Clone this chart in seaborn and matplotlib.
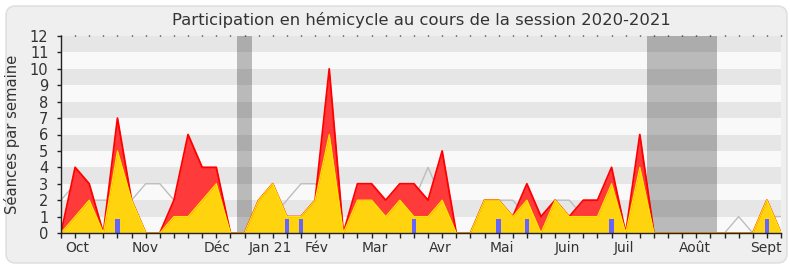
import numpy as np
import pandas as pd
import matplotlib
matplotlib.use("Agg")
import matplotlib.pyplot as plt
import seaborn as sns
from matplotlib.patches import FancyBboxPatch

# ---- data (weekly, session 2020-2021) ----
weeks = list(range(52))
seances_total = [0, 4, 3, 0, 7, 2, 0, 0, 2, 6, 4, 4, 0, 0, 2, 3, 1, 1, 2, 10,
                 0, 3, 3, 2, 3, 3, 2, 5, 0, 0, 2, 2, 1, 3, 1, 2, 1, 2, 2, 4,
                 0, 6, 0, 0, 0, 0, 0, 0, 0, 0, 2, 0]
seances_hemicycle = [0, 1, 2, 0, 5, 2, 0, 0, 1, 1, 2, 3, 0, 0, 2, 3, 1, 1, 2, 6,
                     0, 2, 2, 1, 2, 1, 1, 2, 0, 0, 2, 2, 1, 2, 0, 2, 1, 1, 1, 3,
                     0, 4, 0, 0, 0, 0, 0, 0, 0, 0, 2, 0]
mediane = [2, 3, 2, 2, 2, 2, 3, 3, 2, 3, 1, 1, 0, 0, 1, 1, 2, 3, 3, 2,
           0, 1, 2, 1, 1, 2, 4, 2, 0, 0, 2, 2, 2, 1, 1, 2, 2, 1, 1, 1,
           0, 1, 0, 0, 0, 0, 0, 0, 1, 0, 1, 1]
questions = [0, 0, 0, 0, 1, 0, 0, 0, 0, 0, 0, 0, 0, 0, 0, 0, 1, 1, 0, 0,
             0, 0, 0, 0, 0, 1, 0, 0, 0, 0, 0, 1, 0, 1, 0, 0, 0, 0, 0, 1,
             0, 0, 0, 0, 0, 0, 0, 0, 0, 0, 1, 0]
vacances_debut = [12.5, 41.5]
vacances_fin = [13.5, 46.5]
y_ticks = list(range(13))
month_labels = ["Oct", "Nov", "Déc", "Jan 21", "Fév", "Mar", "Avr", "Mai",
                "Juin", "Juil", "Août", "Sept"]
month_pos = [1.16, 5.94, 11.02, 14.85, 18.1, 22.2, 26.9, 31.2, 35.9, 39.9,
             44.9, 49.95]

df = pd.DataFrame({"semaine": weeks, "total": seances_total,
                   "hemicycle": seances_hemicycle, "mediane": mediane,
                   "questions": questions})

sns.set_theme(style="ticks")
plt.rcParams['font.family'] = ['DejaVu Sans']

W, H = 790, 267
fig = plt.figure(figsize=(W / 100, H / 100), dpi=100)
fig.patch.set_facecolor("white")
panel = FancyBboxPatch((6 / W, 4 / H), 781 / W, 257 / H,
                       boxstyle="round,pad=0,rounding_size=0.012",
                       mutation_aspect=W / H,
                       transform=fig.transFigure, facecolor="#efefef",
                       edgecolor="#dddddd", lw=1.0, zorder=-10)
fig.patches.append(panel)

ax = fig.add_axes([61 / W, 34 / H, 720 / W, 197 / H])
ax.set_facecolor("#f9f9f9")
for k in range(1, 12, 2):
    ax.axhspan(k, k + 1, color="#e6e6e6", lw=0, zorder=0)
for a, b in zip(vacances_debut, vacances_fin):
    ax.axvspan(a, b, color="black", alpha=0.25, lw=0, zorder=1)

sns.lineplot(data=df, x="semaine", y="mediane", color="#bdbdbd", lw=1.0,
             ax=ax, zorder=2)
ax.fill_between(df["semaine"], df["total"], color="#ff3a3a", lw=0, zorder=3)
ax.plot(df["semaine"], df["total"], color="#ff0000", lw=1.3, zorder=3)
ax.fill_between(df["semaine"], df["hemicycle"], color="#ffd30d", lw=0, zorder=4)
ax.plot(df["semaine"], df["hemicycle"], color="#ffe600", lw=0.9, zorder=4)
ax.bar(df["semaine"], df["questions"] * 0.85, width=0.33, color="#6464ff",
       lw=0, zorder=5)

ax.set_xlim(0, 51)
ax.set_ylim(0, 12)

# week tick marks (bottom, outward), small dots on top, y tick marks
ax.plot(weeks, [0] * len(weeks), ls="none", marker=3, markersize=3.8,
        markeredgewidth=1.0, color="#222222", clip_on=False, zorder=12)
ax.plot(weeks, [12] * len(weeks), ls="none", marker=2, markersize=1.0,
        markeredgewidth=1.0, color="#111111", clip_on=False, zorder=12)
ax.plot([0] * len(y_ticks), y_ticks, ls="none", marker=0, markersize=3.2,
        markeredgewidth=1.0, color="#222222", clip_on=False, zorder=12)

ax.set_yticks(y_ticks)
ax.set_xticks(month_pos)
ax.set_xticklabels(month_labels)
ax.tick_params(axis="x", which="major", length=0, pad=6, labelsize=10,
               labelcolor="#333333", bottom=True, top=False)
ax.tick_params(axis="y", which="major", length=0, pad=9, labelsize=10.5,
               labelcolor="#333333", left=True)
ax.minorticks_off()
ax.set_xlabel("")
ax.set_ylabel("Séances par semaine", fontsize=10.6, color="#333333",
              labelpad=7)
for s in ["top", "right"]:
    ax.spines[s].set_visible(False)
for s in ["left", "bottom"]:
    ax.spines[s].set_visible(True)
    ax.spines[s].set_color("#222222")
    ax.spines[s].set_linewidth(1.0)
    ax.spines[s].set_zorder(10)
ax.grid(False)

ax.set_title("Participation en hémicycle au cours de la session 2020-2021",
             fontsize=11.8, color="#333333", pad=8)

fig.savefig("out.png", dpi=100, facecolor=fig.get_facecolor())
